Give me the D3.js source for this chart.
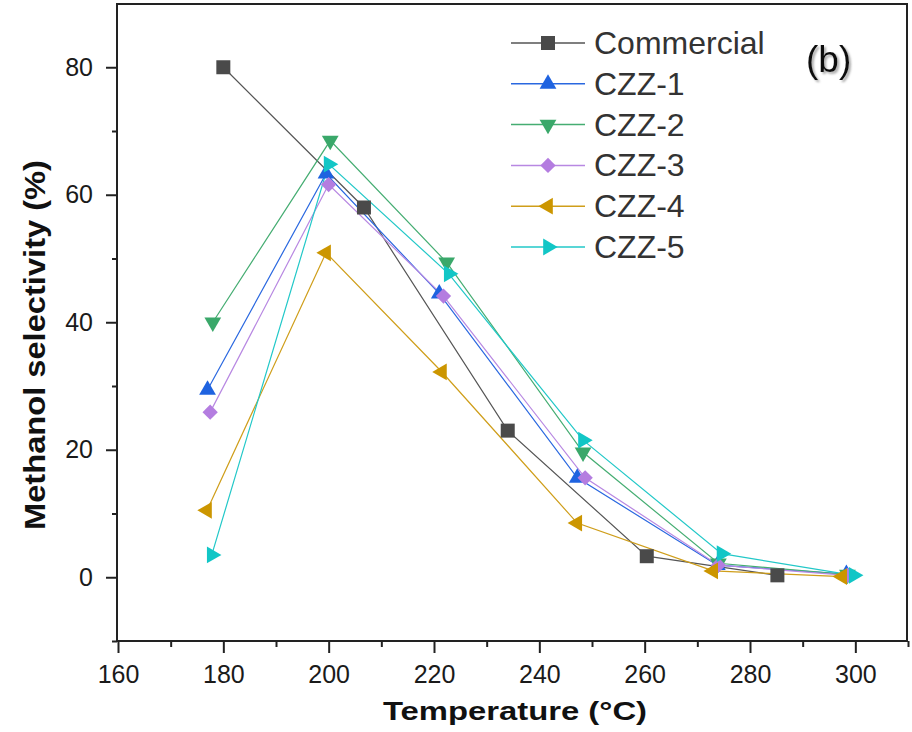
<!DOCTYPE html>
<html>
<head>
<meta charset="utf-8">
<script src="https://cdn.jsdelivr.net/npm/d3@7"></script>
<style>
  html, body { margin: 0; padding: 0; background: #fff; }
  svg { display: block; font-family: "Liberation Sans", Arial, sans-serif; }
</style>
</head>
<body>
<svg id="chart" width="912" height="732"></svg>
<script>
// Methanol selectivity vs. reaction temperature for each catalyst
const seriesNames = ["Commercial", "CZZ-1", "CZZ-2", "CZZ-3", "CZZ-4", "CZZ-5"];

const commercialT = [180, 206.7, 234, 260.4, 285.2];
const commercialS = [80, 58, 23, 3.3, 0.3];

const czz1T = [177, 199.5, 221, 247.2, 273.8, 298.3];
const czz1S = [29.4, 63.3, 44.5, 15.6, 1.9, 0.5];

const czz2T = [178, 200.3, 222.4, 248.3, 274, 298.5];
const czz2S = [40, 68.5, 49.4, 19.6, 2.2, 0.4];

const czz3T = [177.5, 200, 221.8, 248.7, 274, 298.5];
const czz3S = [25.9, 61.6, 44.1, 15.6, 1.9, 0.3];

const czz4T = [176.9, 199.5, 221.5, 247.2, 273, 297.5];
const czz4S = [10.5, 50.9, 32.2, 8.5, 1.0, 0.1];

const czz5T = [177.8, 200, 222.8, 248.3, 274.6, 299.7];
const czz5S = [3.5, 64.8, 47.6, 21.5, 3.7, 0.3];

const xTicks = [160, 180, 200, 220, 240, 260, 280, 300];
const xMinorTicks = [170, 190, 210, 230, 250, 270, 290, 310];
const yTicks = [0, 20, 40, 60, 80];
const yMinorTicks = [-10, 10, 30, 50, 70];

const temps = [commercialT, czz1T, czz2T, czz3T, czz4T, czz5T];
const sels = [commercialS, czz1S, czz2S, czz3S, czz4S, czz5S];
const colors = ["#4a4a4a", "#1f63e0", "#3aa86a", "#b47de0", "#cc9600", "#12c6c6"];
const lineColors = ["#555555", "#2a68e0", "#45ad72", "#b888e2", "#cf9e1a", "#22c8c8"];
const markers = ["square", "up", "down", "diamond", "left", "right"];

const series = seriesNames.map((name, i) => ({
  name, color: colors[i], lineColor: lineColors[i], marker: markers[i],
  points: temps[i].map((t, j) => ({ t, s: sels[i][j] }))
}));

const svg = d3.select("#chart");
const plotLeft = 117, plotRight = 907, plotTop = 4, plotBottom = 641;

const x = d3.scaleLinear().domain([160, 310]).range([118, 908]);
const y = d3.scaleLinear().domain([-10, 90]).range([641, 3.5]);

// marker shapes
function markerPath(kind, size) {
  if (kind === "square") return d3.symbol(d3.symbolSquare, size * size)();
  if (kind === "diamond") return d3.symbol(d3.symbolSquare, size * size * 0.6)();
  return d3.symbol(d3.symbolTriangle, size * size * 0.62)();
}
function markerRotate(kind) {
  return { square: 0, diamond: 45, up: 0, down: 180, left: -90, right: 90 }[kind];
}

// axes
const axisColor = "#222";
const xAxis = svg.append("g").attr("transform", `translate(0,${plotBottom})`)
  .call(d3.axisBottom(x).tickValues(xTicks).tickSize(12).tickPadding(12).tickFormat(d3.format("d")));
const xMinor = svg.append("g").attr("transform", `translate(0,${plotBottom})`)
  .call(d3.axisBottom(x).tickValues(xMinorTicks).tickSize(6).tickFormat(""));
const yAxis = svg.append("g").attr("transform", `translate(${plotLeft},0)`)
  .call(d3.axisLeft(y).tickValues(yTicks).tickSize(11).tickPadding(13).tickFormat(d3.format("d")));
const yMinor = svg.append("g").attr("transform", `translate(${plotLeft},0)`)
  .call(d3.axisLeft(y).tickValues(yMinorTicks).tickSize(5).tickFormat(""));

[xAxis, xMinor, yAxis, yMinor].forEach(g => {
  g.select(".domain").remove();
  g.selectAll("line").attr("stroke", axisColor).attr("stroke-width", 2);
  g.selectAll("text").attr("fill", "#1a1a1a").style("font-size", "25px")
    .style("font-family", "'Liberation Sans', Arial, sans-serif");
});

// frame
svg.append("rect")
  .attr("x", plotLeft).attr("y", plotTop)
  .attr("width", plotRight - plotLeft).attr("height", plotBottom - plotTop)
  .attr("fill", "none").attr("stroke", axisColor).attr("stroke-width", 2);

// series lines and markers
const line = d3.line().x(d => x(d.t)).y(d => y(d.s));
const plot = svg.append("g");
series.forEach(sr => {
  plot.append("path").datum(sr.points)
    .attr("d", line).attr("fill", "none")
    .attr("stroke", sr.lineColor).attr("stroke-width", 1.2);
});
series.forEach(sr => {
  plot.selectAll(null).data(sr.points).enter().append("path")
    .attr("d", markerPath(sr.marker, 14))
    .attr("transform", d => `translate(${x(d.t)},${y(d.s)}) rotate(${markerRotate(sr.marker)})`)
    .attr("fill", sr.color);
});

// legend
const legend = svg.append("g");
const legX0 = 511, legX1 = 585, rowY0 = 43, rowStep = 40.8;
series.forEach((sr, i) => {
  const ry = rowY0 + i * rowStep;
  legend.append("line").attr("x1", legX0).attr("x2", legX1).attr("y1", ry).attr("y2", ry)
    .attr("stroke", sr.lineColor).attr("stroke-width", 1.5);
  legend.append("path").attr("d", markerPath(sr.marker, 14))
    .attr("transform", `translate(${(legX0 + legX1) / 2},${ry}) rotate(${markerRotate(sr.marker)})`)
    .attr("fill", sr.color);
  legend.append("text").attr("x", 594).attr("y", ry + 11)
    .attr("fill", "#333").style("font-size", "32px").text(sr.name);
});

// panel label with a soft shadow
const defs = svg.append("defs");
const f = defs.append("filter").attr("id", "shadow").attr("x", "-20%").attr("y", "-20%")
  .attr("width", "150%").attr("height", "150%");
f.append("feDropShadow").attr("dx", 2).attr("dy", 2).attr("stdDeviation", 1.2)
  .attr("flood-color", "#888").attr("flood-opacity", 0.7);
svg.append("text").attr("x", 806).attr("y", 72)
  .attr("fill", "#111").style("font-size", "37px").attr("filter", "url(#shadow)").text("(b)");

// axis titles
svg.append("text").attr("x", 515).attr("y", 720).attr("text-anchor", "middle")
  .attr("fill", "#111").style("font-size", "26px").style("font-weight", "bold")
  .attr("textLength", 264).attr("lengthAdjust", "spacingAndGlyphs")
  .text("Temperature (°C)");

svg.append("text").attr("transform", "translate(45,345) rotate(-90)")
  .attr("text-anchor", "middle")
  .attr("fill", "#111").style("font-size", "29px").style("font-weight", "bold")
  .attr("textLength", 370).attr("lengthAdjust", "spacingAndGlyphs")
  .text("Methanol selectivity (%)");
</script>
</body>
</html>
